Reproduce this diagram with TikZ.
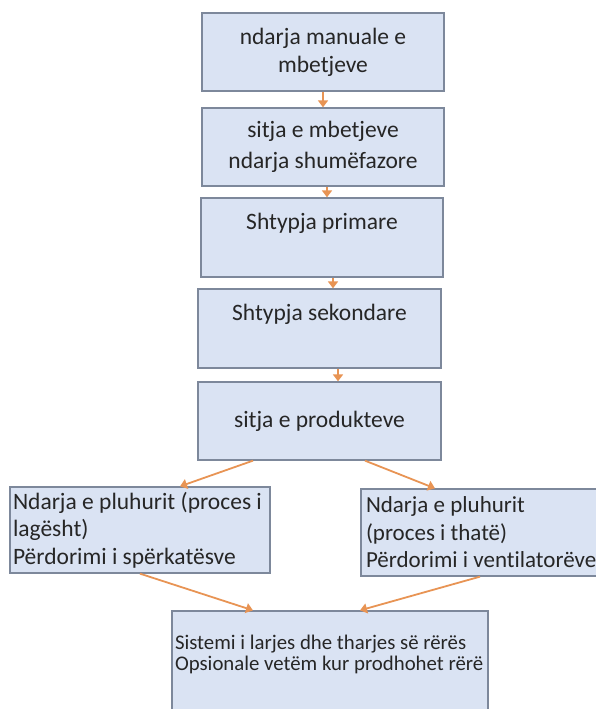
\documentclass[tikz,border=0pt]{standalone}
\usepackage{fontspec}
\setmainfont{Carlito}[Ligatures=NoCommon]
\usetikzlibrary{positioning}
\usetikzlibrary{arrows.meta}
\definecolor{boxfill}{RGB}{218,227,243}
\definecolor{boxline}{RGB}{125,136,155}
\definecolor{flowline}{RGB}{232,148,84}

\tikzset{
    stage/.style={draw=boxline, fill=boxfill, line width=1.3pt, inner sep=0pt,
        minimum width=242pt, minimum height=78pt, align=flush center,
        text=black!85, font=\fontsize{23.5}{28}\selectfont},
    note/.style={stage, align=flush left, inner xsep=6pt},
    flow/.style={draw=flowline, line width=1.8pt,
        -{Triangle[width=10pt,length=7pt]}}
}

\begin{document}
\begin{tikzpicture}[x=1pt, y=-1pt]
    \useasboundingbox (0,0) rectangle (595,709);

    \node[stage] (b1) at (323, 52) {ndarja manuale e\\mbetjeve};
    \node[stage, font=\fontsize{23.5}{31}\selectfont] (b2) at (323, 147) {sitja e mbetjeve\\ndarja shumëfazore};
    \node[stage, text height=31pt, text depth=48pt] (b3) at (322, 237.5) {Shtypja primare};
    \node[stage, minimum width=243pt, text height=31pt, text depth=48pt] (b4) at (319.5, 328.5) {Shtypja sekondare};
    \node[stage, minimum width=243pt] (b5) at (319.5, 421) {sitja e produkteve};

    \node[note, inner xsep=3pt, text width=254pt, minimum height=86pt, font=\fontsize{23.5}{27.5}\selectfont] (wet) at (140, 530)
        {Ndarja e pluhurit (proces i\\lagësht)\\Përdorimi i spërkatësve};
    \node[note, inner xsep=5pt, text width=240pt, minimum height=87pt, font=\fontsize{23}{27.5}\selectfont] (dry) at (486, 532.5)
        {Ndarja e pluhurit\\(proces i thatë)\\Përdorimi i ventilatorëve};

    \node[stage, align=flush left, inner xsep=3pt, minimum width=316pt, font=\fontsize{20.8}{21}\selectfont] (sand) at (330, 661)
        {\parbox[c][100pt][t]{310pt}{\vspace*{24pt}Sistemi i larjes dhe tharjes së rërës\\Opsionale vetëm kur prodhohet rërë}};

    % short arrows down the column
    \draw[flow] (b2.north |- b1.south) -- (b2.north);
    \draw[flow] ([xshift=5pt]b3.north |- b2.south) -- ([xshift=5pt]b3.north);
    \draw[flow] ([xshift=13.5pt]b4.north |- b3.south) -- ([xshift=13.5pt]b4.north);
    \draw[flow] ([xshift=18.5pt]b5.north |- b4.south) -- ([xshift=18.5pt]b5.north);

    % split and join
    \draw[flow] ([xshift=-66.5pt]b5.south) -- ([xshift=40pt]wet.north);
    \draw[flow] ([xshift=45.5pt]b5.south) -- ([xshift=-51pt]dry.north);
    \draw[flow] (wet.south) -- ([xshift=-77pt]sand.north);
    \draw[flow] ([xshift=-6pt]dry.south) -- ([xshift=30pt]sand.north);
\end{tikzpicture}
\end{document}
